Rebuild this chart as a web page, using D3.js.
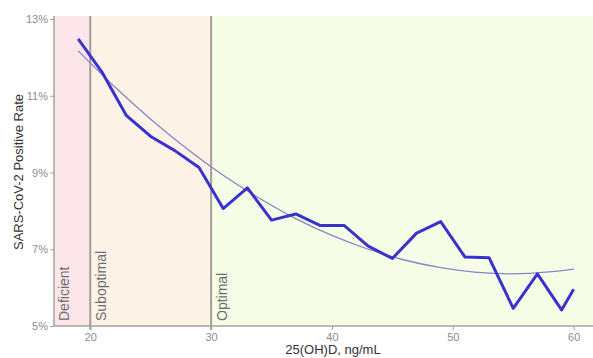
<!DOCTYPE html>
<html><head><meta charset="utf-8">
<script src="https://cdn.jsdelivr.net/npm/d3@7"></script>
<style>body{margin:0;background:#fff;}svg{display:block;font-family:"Liberation Sans",Arial,sans-serif;}</style>
</head><body>
<svg id="c" width="593" height="358"></svg>
<script>
const vitD = [19,21,23,25,27,29,31,33,35,37,39,41,43,45,47,49,51,53,55,57,59,60];
const positiveRate = [12.48,11.6,10.48,9.94,9.57,9.13,8.06,8.6,7.76,7.92,7.62,7.62,7.08,6.76,7.42,7.72,6.8,6.78,5.46,6.36,5.42,5.96];
const fitX = [19,22,25,28,31,34,37,40,43,46,49,52,55,58,60];
const fitY = [12.17,11.24,10.39,9.62,8.93,8.33,7.80,7.36,7.00,6.72,6.52,6.40,6.36,6.41,6.48];
const zones = [{name:"Deficient",from:17,to:20,color:"#fde6e9"},{name:"Suboptimal",from:20,to:30,color:"#fdf2e6"},{name:"Optimal",from:30,to:61.6,color:"#f5fde6"}];
const xTicks = [20,30,40,50,60];
const yTicks = [5,7,9,11,13];

const svg = d3.select("#c");
const x = d3.scaleLinear().domain([17,61.6]).range([54,593]);
const y = d3.scaleLinear().domain([5,13]).range([326,19]);
const plotTop = 16;

svg.selectAll("rect.zone").data(zones).join("rect")
  .attr("x", d=>x(d.from)).attr("width", d=>x(d.to)-x(d.from))
  .attr("y", plotTop).attr("height", y(5)-plotTop).attr("fill", d=>d.color);

svg.selectAll("line.b").data([20,30]).join("line")
  .attr("x1", d=>x(d)).attr("x2", d=>x(d)).attr("y1", plotTop).attr("y2", y(5)+4)
  .attr("stroke", "#a39e99").attr("stroke-width", 2);

svg.selectAll("text.zl").data(zones).join("text")
  .attr("transform", d=>`translate(${x(d.from)+(d.from===17?10:11)},321) rotate(-90)`)
  .attr("dy", "0.35em")
  .attr("font-size", 14).attr("fill", "#6e6e6e").text(d=>d.name);

const xAxis = svg.append("g").attr("transform", `translate(0,${y(5)})`)
  .call(d3.axisBottom(x).tickValues(xTicks).tickSize(4).tickPadding(3).tickFormat(d3.format("d")));
const yAxis = svg.append("g").attr("transform", `translate(${x(17)},0)`)
  .call(d3.axisLeft(y).tickValues(yTicks).tickSize(4).tickPadding(2).tickFormat(d=>d+"%"));
[xAxis,yAxis].forEach(a=>{
  a.select(".domain").remove();
  a.selectAll(".tick line").attr("stroke","#a0a0a0");
  a.selectAll(".tick text").attr("fill","#8c8c8c").attr("font-size",11).attr("font-family","Liberation Sans, Arial, sans-serif");
});
svg.append("line").attr("x1", x(17)).attr("x2", 593).attr("y1", y(5)).attr("y2", y(5)).attr("stroke","#a5a0a0").attr("stroke-width",1.5);
svg.append("line").attr("x1", x(17)).attr("x2", x(17)).attr("y1", plotTop).attr("y2", y(5)).attr("stroke","#a5a0a0").attr("stroke-width",1.5);

svg.append("path").datum(fitX.map((v,i)=>[v,fitY[i]]))
  .attr("d", d3.line().x(d=>x(d[0])).y(d=>y(d[1])).curve(d3.curveCatmullRom))
  .attr("fill","none").attr("stroke","#8686c8").attr("stroke-width",1.3);

svg.append("path").datum(vitD.map((v,i)=>[v,positiveRate[i]]))
  .attr("d", d3.line().x(d=>x(d[0])).y(d=>y(d[1])))
  .attr("fill","none").attr("stroke","#3a32cc").attr("stroke-width",3).attr("stroke-linejoin","round");

svg.append("text").attr("x", 333).attr("y", 349).attr("dy","0.35em").attr("text-anchor","middle")
  .attr("font-size",13).attr("fill","#333").text("25(OH)D, ng/mL");
svg.append("text").attr("transform", `translate(18,172) rotate(-90)`).attr("dy","0.35em").attr("text-anchor","middle")
  .attr("font-size",13).attr("fill","#333").text("SARS-CoV-2 Positive Rate");
</script>
</body></html>
